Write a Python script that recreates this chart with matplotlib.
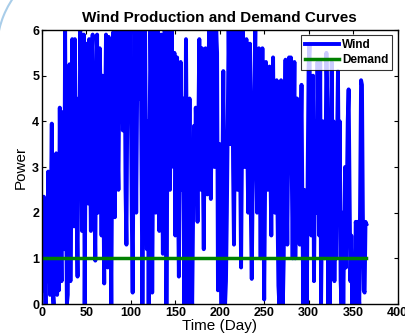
import numpy as np
import matplotlib
matplotlib.use("Agg")
import matplotlib.pyplot as plt
from matplotlib.patches import Arc
from matplotlib.transforms import IdentityTransform

# daily wind power (day 0 .. day 365)
wind = [
    2.0, 0.3, 2.35, 1.2, 0.0, 2.3, 0.5, 2.9, 1.5, 0.2,
    2.2, 3.95, 0.3, 0.0, 3.1, 1.5, 3.3, 0.2, 2.5, 0.3,
    4.3, 2.0, 0.5, 4.2, 3.0, 1.2, 6.0, 2.5, 0.0, 0.2,
    3.0, 5.25, 0.5, 2.8, 5.8, 4.2, 1.7, 5.8, 3.5, 2.0,
    0.6, 4.5, 2.5, 6.0, 5.0, 1.6, 4.0, 5.9, 0.0, 3.2,
    5.7, 4.0, 2.2, 5.8, 3.5, 1.6, 5.5, 5.9, 3.0, 2.2,
    0.95, 4.5, 5.9, 2.0, 3.8, 5.6, 4.5, 1.5, 5.0, 2.8,
    0.45, 4.0, 5.9, 3.0, 0.8, 5.85, 4.5, 2.3, 0.0, 3.5,
    5.95, 4.0, 1.9, 5.5, 6.0, 3.5, 2.5, 5.2, 6.0, 4.0,
    6.0, 3.8, 5.0, 6.0, 2.5, 1.3, 4.5, 6.0, 4.8, 6.0,
    4.5, 2.0, 0.25, 3.5, 6.0, 5.0, 2.0, 4.5, 6.0, 5.5,
    4.5, 6.0, 3.0, 0.0, 2.5, 5.0, 6.0, 3.0, 1.2, 4.0,
    0.0, 3.5, 6.0, 4.5, 0.25, 3.0, 6.0, 5.5, 2.0, 4.2,
    6.0, 3.0, 1.6, 4.5, 5.9, 3.5, 1.1, 4.0, 6.0, 5.0,
    0.0, 3.0, 6.0, 4.5, 2.5, 5.0, 6.0, 4.0, 3.0, 5.5,
    1.5, 3.5, 5.4, 2.5, 0.6, 3.0, 5.3, 4.0, 2.5, 4.5,
    0.0, 2.5, 5.8, 3.0, 0.0, 2.0, 4.5, 1.5, 0.2, 0.0,
    2.0, 3.9, 2.5, 4.3, 3.5, 1.8, 4.0, 5.8, 4.0, 2.5,
    5.6, 3.0, 1.2, 4.0, 5.6, 3.5, 2.4, 4.5, 6.0, 4.0,
    2.3, 4.5, 6.0, 5.0, 3.0, 4.5, 6.0, 5.5, 0.3, 2.0,
    3.5, 1.5, 0.0, 2.8, 5.1, 2.5, 0.0, 0.5, 2.0, 4.0,
    6.0, 4.5, 3.5, 5.0, 6.0, 3.0, 1.3, 4.0, 6.0, 4.0,
    2.5, 5.0, 6.0, 3.0, 0.8, 3.5, 6.0, 4.5, 3.0, 5.0,
    5.8, 3.5, 2.0, 4.0, 5.7, 2.0, 0.55, 2.5, 4.0, 5.0,
    6.0, 3.5, 2.0, 4.5, 5.6, 3.0, 1.0, 3.5, 5.6, 2.5,
    0.1, 2.5, 5.3, 4.0, 2.5, 4.0, 5.2, 3.0, 1.5, 3.5,
    5.4, 3.0, 2.0, 3.5, 4.9, 2.0, 0.4, 0.0, 2.5, 4.9,
    3.0, 0.0, 1.0, 4.0, 5.35, 3.0, 1.3, 3.5, 5.4, 3.5,
    5.4, 3.0, 1.0, 3.5, 5.3, 1.0, 2.5, 4.5, 3.0, 4.4,
    1.3, 3.5, 4.8, 2.0, 0.0, 2.5, 0.0, 1.5, 0.0, 3.0,
    5.2, 5.7, 3.0, 1.5, 3.5, 5.0, 0.5, 2.5, 4.0, 2.0,
    5.3, 3.7, 1.5, 5.3, 0.0, 2.0, 4.0, 2.5, 1.0, 3.0,
    5.5, 4.5, 0.0, 1.5, 0.0, 3.5, 5.3, 2.2, 4.0, 0.5,
    2.5, 1.0, 3.5, 5.1, 2.5, 4.0, 0.5, 0.0, 2.0, 0.0,
    1.5, 3.0, 0.8, 2.5, 4.0, 4.7, 2.5, 0.5, 1.5, 0.0,
    0.5, 1.0, 0.0, 1.8, 1.6, 1.8, 0.2, 0.0, 2.5, 4.9,
    4.8, 2.0, 0.3, 0.25, 1.8, 1.75,
]
demand_level = 1.0

days = np.arange(len(wind))
demand = [demand_level] * len(wind)

plt.rcParams['font.family'] = ['Liberation Sans', 'DejaVu Sans']

fig = plt.figure(figsize=(4.05, 3.36), dpi=100)
ax = fig.add_axes([0.1037, 0.0952, 0.8778, 0.8155])

ax.plot(days, wind, color=(0, 0, 1), lw=2.8, label='Wind')
ax.plot(days, demand, color=(0, 0.5, 0), lw=2.5, label='Demand')

ax.set_xlim(0, 400)
ax.set_ylim(0, 6)
ax.set_xticks(range(0, 401, 50))
ax.set_yticks(range(0, 7))
ax.tick_params(direction='in', length=3, top=True, right=True, width=0.8, pad=2)
for lab in ax.get_xticklabels() + ax.get_yticklabels():
    lab.set_fontweight('bold')
    lab.set_fontsize(9)
for sp in ax.spines.values():
    sp.set_linewidth(1.0)

ax.set_title('Wind Production and Demand Curves', fontsize=11, fontweight='bold', pad=6)
ax.set_xlabel('Time (Day)', fontsize=11, labelpad=0)
ax.set_ylabel('Power', fontsize=11, labelpad=3)

leg = ax.legend(loc='upper right', fontsize=8.5, frameon=True, fancybox=False,
                handlelength=2.9, borderpad=0.3, labelspacing=0.3,
                handletextpad=0.3, borderaxespad=0.45)
leg.get_frame().set_edgecolor('black')
leg.get_frame().set_linewidth(0.8)
for t in leg.get_texts():
    t.set_fontweight('bold')

# light slide decoration in the top-left corner (pixel coords)
fig.add_artist(Arc((87, 286.5), 180, 180, theta1=140, theta2=176,
                   transform=IdentityTransform(), edgecolor='#a9cde9', lw=1.5))

fig.savefig('out.png', dpi=100)
